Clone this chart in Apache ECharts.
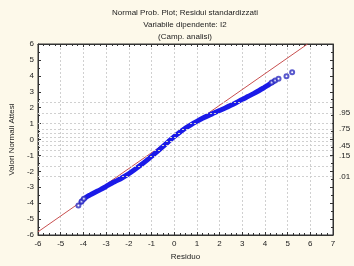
<!DOCTYPE html>
<html><head><meta charset="utf-8">
<script src="https://cdn.jsdelivr.net/npm/echarts@6/dist/echarts.min.js"></script>
<style>html,body{margin:0;padding:0;background:#fdf9ea;}#c{width:354px;height:266px;}</style>
</head><body><div id="c"></div>
<script>
var titleLines = ["Normal Prob. Plot; Residui standardizzati", "Variabile dipendente: I2", "(Camp. analisi)"];
var xName = "Residuo";
var yName = "Valori Normali Attesi";
var residX = [-4.1, -3.98, -3.85, -3.7, -3.5, -3.25, -3.0, -2.75, -2.5, -2.25, -2.0, -1.75, -1.5, -1.25, -1.0, -0.75, -0.5, -0.25, 0, 0.25, 0.5, 0.75, 1.0, 1.25, 1.5, 1.75, 2.0, 2.25, 2.5, 2.75, 3.0, 3.25, 3.5, 3.75, 3.95, 4.1, 4.25, 4.4];
var expectedY = [-3.92, -3.75, -3.6, -3.48, -3.33, -3.15, -2.95, -2.75, -2.57, -2.37, -2.15, -1.9, -1.64, -1.36, -1.06, -0.76, -0.45, -0.13, 0.18, 0.46, 0.72, 0.94, 1.14, 1.33, 1.5, 1.66, 1.82, 1.98, 2.15, 2.33, 2.52, 2.7, 2.88, 3.08, 3.25, 3.38, 3.52, 3.65];
var tailX = [-4.22, -4.08, -3.98, 4.3, 4.45, 4.6, 4.95, 5.2];
var tailY = [-4.15, -3.9, -3.72, 3.58, 3.7, 3.82, 3.98, 4.22];
var refLineX = [-6, 5.88];
var refLineY = [-5.8, 6];
var probValues = [2.326, 1.645, 1.036, 0.674, 0.385, 0.126, -0.126, -0.385, -0.674, -1.036, -1.645, -2.326];
var probLabels = ["", ".95", "", ".75", "", "", "", ".45", "", ".15", "", ".01"];

var pts = residX.map(function(x, i){ return [x, expectedY[i]]; });
var tailPts = tailX.map(function(x, i){ return [x, tailY[i]]; });
var refPts = refLineX.map(function(x, i){ return [x, refLineY[i]]; });
var font = "Liberation Sans";
var chart = echarts.init(document.getElementById('c'), null, {renderer: 'canvas'});
var tickStyle = {show: true, inside: true, length: 3, lineStyle: {color: '#333'}};
var minor = {show: true, splitNumber: 4, length: 2, lineStyle: {color: '#333'}};
chart.setOption({
  backgroundColor: '#fdf9ea',
  animation: false,
  title: [
    {text: titleLines[0], left: 180, top: 4, textAlign: 'center', textStyle: {fontFamily: font, fontSize: 8, fontWeight: 'normal', color: '#222'}},
    {text: titleLines[1], left: 180, top: 16, textAlign: 'center', textStyle: {fontFamily: font, fontSize: 8, fontWeight: 'normal', color: '#222'}},
    {text: titleLines[2], left: 180, top: 28, textAlign: 'center', textStyle: {fontFamily: font, fontSize: 8, fontWeight: 'normal', color: '#222'}}
  ],
  grid: {left: 27, right: 21, top: 44, bottom: 30, show: true, backgroundColor: '#ffffff', borderColor: '#333', borderWidth: 1},
  xAxis: [
    {type: 'value', min: -6, max: 7, interval: 1, position: 'bottom',
     name: xName, nameLocation: 'middle', nameGap: 18,
     nameTextStyle: {fontFamily: font, fontSize: 8, color: '#222'},
     axisLine: {show: true, onZero: false, lineStyle: {color: '#333'}},
     axisTick: tickStyle, minorTick: minor,
     axisLabel: {fontFamily: font, fontSize: 8, color: '#222', margin: 5},
     splitLine: {show: true, lineStyle: {color: '#d0d0d0', type: [2, 2], width: 1}}},
    {type: 'value', min: -6, max: 7, interval: 1, position: 'top',
     axisLine: {show: true, onZero: false, lineStyle: {color: '#333'}},
     axisTick: tickStyle, minorTick: minor, axisLabel: {show: false}, splitLine: {show: false}}
  ],
  yAxis: [
    {type: 'value', min: -6, max: 6, interval: 1, position: 'left',
     name: yName, nameLocation: 'middle', nameGap: 19, nameRotate: 90,
     nameTextStyle: {fontFamily: font, fontSize: 8, color: '#222'},
     axisLine: {show: true, onZero: false, lineStyle: {color: '#333'}},
     axisTick: tickStyle, minorTick: {show: true, splitNumber: 2, length: 2, lineStyle: {color: '#333'}},
     axisLabel: {fontFamily: font, fontSize: 8, color: '#222', margin: 4},
     splitLine: {show: false}},
    {type: 'value', min: -6, max: 6, interval: 1, position: 'right',
     axisLine: {show: true, onZero: false, lineStyle: {color: '#333'}},
     axisTick: tickStyle, minorTick: {show: true, splitNumber: 2, length: 2, lineStyle: {color: '#333'}},
     axisLabel: {show: false}, splitLine: {show: false}}
  ],
  series: [
    {type: 'line', data: [], silent: true,
     markLine: {silent: true, symbol: 'none', animation: false,
       lineStyle: {color: '#d0d0d0', type: [2, 2], width: 1},
       label: {show: true, position: 'end', distance: 6, fontFamily: font, fontSize: 8, color: '#222',
               formatter: function(p){ return probLabels[p.dataIndex]; }},
       data: probValues.map(function(v){ return {yAxis: v}; })}},
    {type: 'line', data: refPts, showSymbol: false, symbol: 'none', silent: true,
     lineStyle: {color: '#c85050', width: 1}, z: 3},
    {type: 'line', data: pts, symbol: 'none', smooth: 0.3, silent: true,
     lineStyle: {color: '#1a1ae8', width: 5, cap: 'round', join: 'round'}, z: 4},
    {type: 'scatter', data: tailPts, symbol: 'emptyCircle', symbolSize: 4, silent: true,
     itemStyle: {color: '#3030c0', borderWidth: 1}, z: 5}
  ]
});
</script></body></html>
